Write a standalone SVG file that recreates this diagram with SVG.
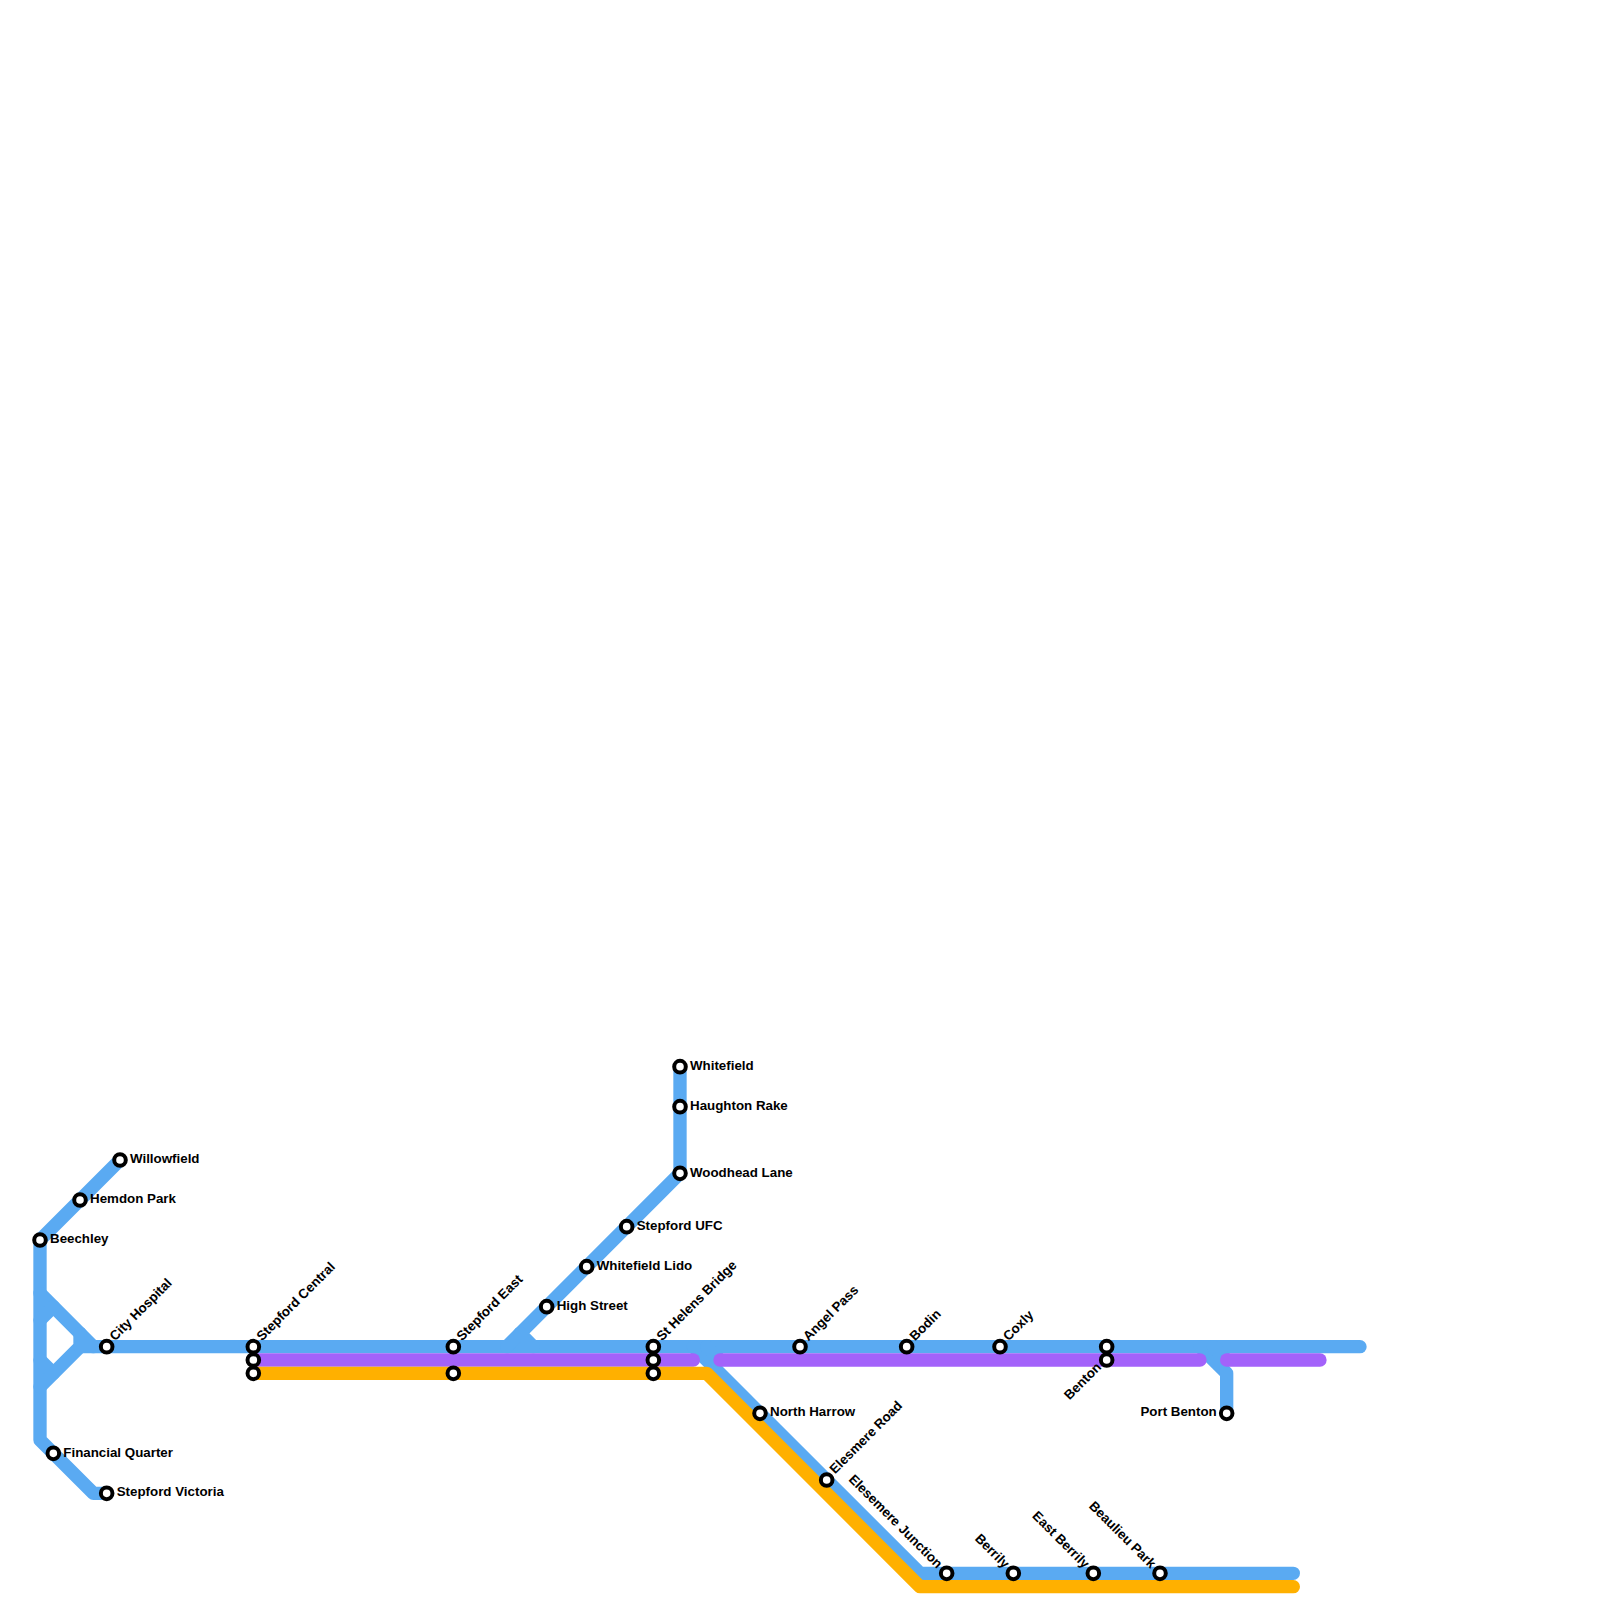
<svg xmlns="http://www.w3.org/2000/svg" width="1600" height="1600" viewBox="0 0 1600 1600">
<style>
.l{fill:none;stroke-width:13.33;stroke-linecap:round;stroke-linejoin:round}
.b{stroke:#5aaaf2}.p{stroke:#a362fa}.o{stroke:#ffb000}
.s{fill:#fff;stroke:#000;stroke-width:4}
text{font-family:"Liberation Sans",Arial,sans-serif;font-weight:bold;font-size:13.33px;fill:#000}
.e{text-anchor:end}
</style>
<rect width="1600" height="1600" fill="#fff"/>
<g id="connectors">
<path class="l b" d="M120 1160L40 1240V1440L93.33 1493.33H106.67"/>
<path class="l b" d="M40 1293.33L93.33 1346.67"/>
<path class="l b" d="M40 1320L53.33 1306.67"/>
<path class="l b" d="M40 1360L53.33 1373.33"/>
<path class="l b" d="M40 1386.67L80 1346.67V1333.33"/>
<path class="l b" d="M80 1346.67H1360"/>
<path class="l b" d="M680 1066.67V1173.33L506.67 1346.67"/>
<path class="l b" d="M520 1333.33L533.33 1346.67"/>
<path class="l b" d="M693.33 1346.67L920 1573.33H1293.33"/>
<path class="l b" d="M706.67 1346.67L720 1360"/>
<path class="l b" d="M1200 1346.67L1226.67 1373.33V1413.33"/>
<path class="l b" d="M1213.33 1346.67L1226.67 1360"/>
<path class="l p" d="M253.33 1360H693.33"/>
<path class="l p" d="M720 1360H1200"/>
<path class="l p" d="M1226.67 1360H1320"/>
<path class="l o" d="M253.33 1373.33H706.67L920 1586.67H1293.33"/>
</g>
<g id="willowfield"><circle class="s" cx="120" cy="1160" r="5.8"/><text x="130" y="1163">Willowfield</text></g>
<g id="hemdon-park"><circle class="s" cx="80" cy="1200" r="5.8"/><text x="90" y="1203">Hemdon Park</text></g>
<g id="beechley"><circle class="s" cx="40" cy="1240" r="5.8"/><text x="50" y="1243">Beechley</text></g>
<g id="city-hospital"><circle class="s" cx="106.67" cy="1346.67" r="5.8"/><text transform="translate(115 1341.5) rotate(-45)">City Hospital</text></g>
<g id="financial-quarter"><circle class="s" cx="53.33" cy="1453.33" r="5.8"/><text x="63.3" y="1456.6">Financial Quarter</text></g>
<g id="stepford-victoria"><circle class="s" cx="106.67" cy="1493.33" r="5.8"/><text x="116.7" y="1496.4">Stepford Victoria</text></g>
<g id="stepford-central"><circle class="s" cx="253.33" cy="1346.67" r="5.8"/><circle class="s" cx="253.33" cy="1360" r="5.8"/><circle class="s" cx="253.33" cy="1373.33" r="5.8"/><text transform="translate(262 1341.5) rotate(-45)">Stepford Central</text></g>
<g id="stepford-east"><circle class="s" cx="453.33" cy="1346.67" r="5.8"/><circle class="s" cx="453.33" cy="1373.33" r="5.8"/><text transform="translate(462 1341.5) rotate(-45)">Stepford East</text></g>
<g id="high-street"><circle class="s" cx="546.67" cy="1306.67" r="5.8"/><text x="556.7" y="1310">High Street</text></g>
<g id="whitefield-lido"><circle class="s" cx="586.67" cy="1266.67" r="5.8"/><text x="596.7" y="1270">Whitefield Lido</text></g>
<g id="stepford-ufc"><circle class="s" cx="626.67" cy="1226.67" r="5.8"/><text x="636.7" y="1230">Stepford UFC</text></g>
<g id="woodhead-lane"><circle class="s" cx="680" cy="1173.33" r="5.8"/><text x="690" y="1176.8">Woodhead Lane</text></g>
<g id="haughton-rake"><circle class="s" cx="680" cy="1106.67" r="5.8"/><text x="690" y="1110">Haughton Rake</text></g>
<g id="whitefield"><circle class="s" cx="680" cy="1066.67" r="5.8"/><text x="690" y="1070">Whitefield</text></g>
<g id="st-helens-bridge"><circle class="s" cx="653.33" cy="1346.67" r="5.8"/><circle class="s" cx="653.33" cy="1360" r="5.8"/><circle class="s" cx="653.33" cy="1373.33" r="5.8"/><text transform="translate(662 1341.5) rotate(-45)">St Helens Bridge</text></g>
<g id="angel-pass"><circle class="s" cx="800" cy="1346.67" r="5.8"/><text transform="translate(808.5 1341.5) rotate(-45)">Angel Pass</text></g>
<g id="bodin"><circle class="s" cx="906.67" cy="1346.67" r="5.8"/><text transform="translate(915 1341.5) rotate(-45)">Bodin</text></g>
<g id="coxly"><circle class="s" cx="1000" cy="1346.67" r="5.8"/><text transform="translate(1008.5 1341.5) rotate(-45)">Coxly</text></g>
<g id="north-harrow"><circle class="s" cx="760" cy="1413.33" r="5.8"/><text x="770" y="1416.4">North Harrow</text></g>
<g id="elesmere-road"><circle class="s" cx="826.67" cy="1480" r="5.8"/><text transform="translate(835 1474.5) rotate(-45)">Elesmere Road</text></g>
<g id="elesemere-junction"><circle class="s" cx="946.67" cy="1573.33" r="5.8"/><text class="e" transform="translate(937 1569) rotate(45)">Elesemere Junction</text></g>
<g id="berrily"><circle class="s" cx="1013.33" cy="1573.33" r="5.8"/><text class="e" transform="translate(1004 1569) rotate(45)">Berrily</text></g>
<g id="east-berrily"><circle class="s" cx="1093.33" cy="1573.33" r="5.8"/><text class="e" transform="translate(1084 1569) rotate(45)">East Berrily</text></g>
<g id="beaulieu-park"><circle class="s" cx="1160" cy="1573.33" r="5.8"/><text class="e" transform="translate(1150.5 1569) rotate(45)">Beaulieu Park</text></g>
<g id="benton"><circle class="s" cx="1106.67" cy="1346.67" r="5.8"/><circle class="s" cx="1106.67" cy="1360" r="5.8"/><text class="e" transform="translate(1102 1368) rotate(-45)">Benton</text></g>
<g id="port-benton"><circle class="s" cx="1226.67" cy="1413.33" r="5.8"/><text class="e" x="1216.7" y="1416.4">Port Benton</text></g>
</svg>
